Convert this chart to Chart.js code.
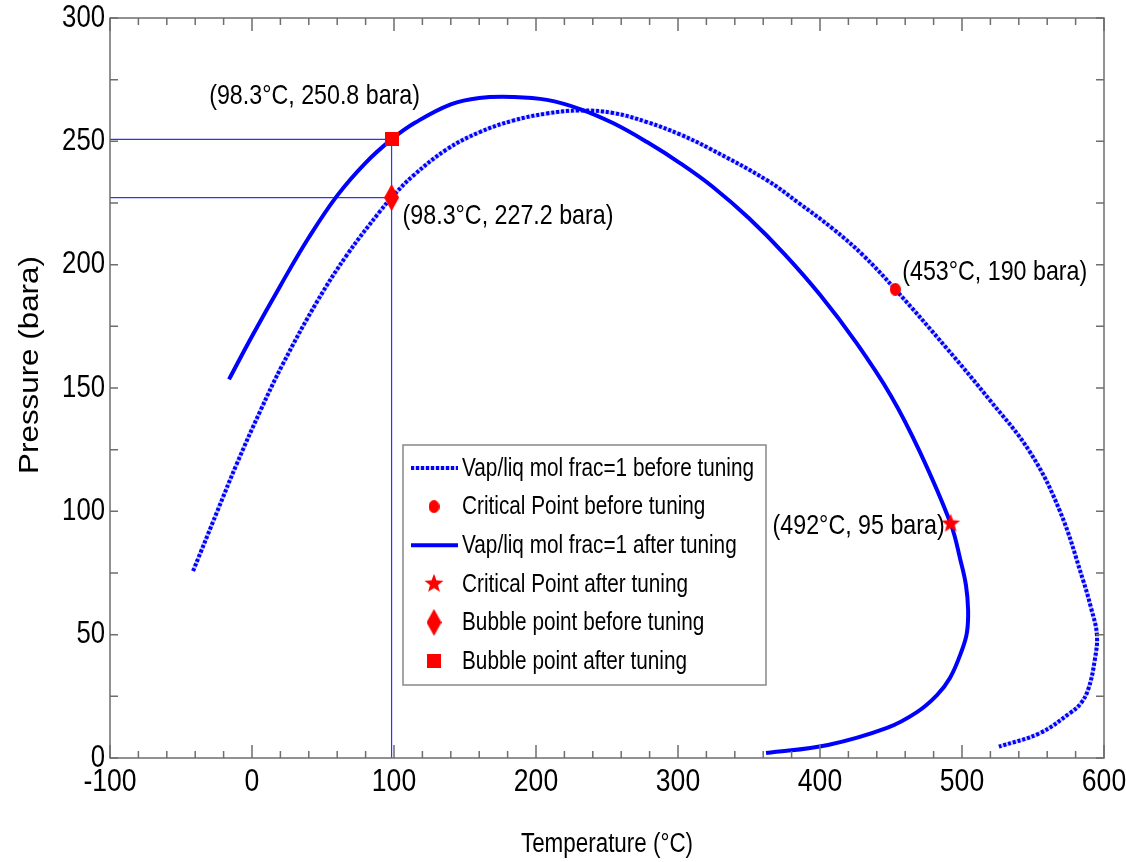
<!DOCTYPE html>
<html>
<head>
<meta charset="utf-8">
<script src="https://cdn.jsdelivr.net/npm/chart.js@4.4.1/dist/chart.umd.min.js"></script>
<style>
  html, body { margin: 0; padding: 0; background: #fff; }
</style>
</head>
<body>
<canvas id="envelope" width="1126" height="862"></canvas>
<script>
// phase envelope, before tuning (dotted)
const beforeT = [-41.5, -24.6, -10.6, 5.6, 21.8, 45.8, 66.9, 90.1, 98.3, 113.4, 137.3, 160.6, 183.8, 207.7, 231, 254.2, 278.2, 301.4, 322.5, 362.7, 385, 409.2, 430, 453, 489.4, 519.7, 547.9, 569, 585.2, 590.8, 595, 593.5, 589, 583.5, 576, 554.9, 526];
const beforeP = [75.8, 99.8, 119.4, 140.4, 159.8, 185, 204, 221.6, 227.2, 236, 246.8, 253.8, 258.4, 261.3, 262.5, 261.5, 257.8, 252.8, 247, 234.2, 225, 214.5, 204, 190, 166, 145, 124, 100, 72.2, 61, 50, 39.7, 28, 22, 18.2, 10.1, 4.6];

// phase envelope, after tuning (solid)
const afterT = [-16.2, 0, 20, 40, 60, 80, 98.3, 115, 140, 160, 183.8, 207.7, 231, 254.2, 278.2, 301.4, 324.6, 350, 375, 400, 425, 450, 470, 492, 499, 502.8, 504.3, 503.5, 500, 491.5, 482.4, 468.3, 447.2, 405.6, 362];
const afterP = [153.5, 171, 191.5, 211, 228, 241.3, 250.8, 257.6, 265, 267.6, 268, 266.8, 263.1, 257.4, 249.7, 241.2, 231.5, 218.8, 204.3, 187.8, 168.8, 146.8, 124.5, 95, 80, 70, 60, 51, 43.8, 32.4, 25.5, 18.6, 12.2, 5.3, 2];

const critBefore = [453, 190];
const critAfter = [492, 95];
const bubbleBefore = [98.3, 227.2];
const bubbleAfter = [98.3, 250.8];

const xTicks = [-100, 0, 100, 200, 300, 400, 500, 600];
const yTicks = [0, 50, 100, 150, 200, 250, 300];

const legendLabels = [
  'Vap/liq mol frac=1 before tuning',
  'Critical Point before tuning',
  'Vap/liq mol frac=1 after tuning',
  'Critical Point after tuning',
  'Bubble point before tuning',
  'Bubble point after tuning'
];

const FONT = "'Liberation Sans', Arial, sans-serif";
const SQUEEZE = 0.83; // the original figure is stretched vertically, text looks narrow
const BLUE = '#0000ff';
const RED = '#ff0000';

function toPts(xs, ys) {
  return xs.map((x, i) => ({ x: x, y: ys[i] }));
}

// narrow text helper
function narrowText(ctx, txt, x, y, size, align) {
  ctx.save();
  ctx.translate(x, y);
  ctx.scale(SQUEEZE, 1);
  ctx.font = size + 'px ' + FONT;
  ctx.textAlign = align;
  ctx.textBaseline = 'middle';
  ctx.fillText(txt, 0, 0);
  ctx.restore();
}

// marker images
function starImage(r) {
  const c = document.createElement('canvas');
  c.width = c.height = r * 2 + 2;
  const g = c.getContext('2d');
  g.fillStyle = RED;
  g.beginPath();
  for (let i = 0; i < 10; i++) {
    const rad = i % 2 === 0 ? r : r * 0.42;
    const a = -Math.PI / 2 + i * Math.PI / 5;
    g.lineTo(r + 1 + rad * Math.cos(a), r + 1 + rad * Math.sin(a));
  }
  g.closePath();
  g.fill();
  return c;
}
function diamondImage(w, h) {
  const c = document.createElement('canvas');
  c.width = w; c.height = h;
  const g = c.getContext('2d');
  g.fillStyle = RED;
  g.beginPath();
  g.moveTo(w / 2, 0); g.lineTo(w, h / 2); g.lineTo(w / 2, h); g.lineTo(0, h / 2);
  g.closePath();
  g.fill();
  return c;
}
function dotImage(w, h) {
  const c = document.createElement('canvas');
  c.width = w; c.height = h;
  const g = c.getContext('2d');
  g.fillStyle = RED;
  g.beginPath();
  g.ellipse(w / 2, h / 2, w / 2, h / 2, 0, 0, Math.PI * 2);
  g.fill();
  return c;
}
function squareImage(s) {
  const c = document.createElement('canvas');
  c.width = c.height = s;
  const g = c.getContext('2d');
  g.fillStyle = RED;
  g.fillRect(0, 0, s, s);
  return c;
}
const starImg = starImage(10);
const diamondImg = diamondImage(15, 27);
const dotImg = dotImage(11, 13);
const squareImg = squareImage(14);

const frameAndText = {
  id: 'frameAndText',
  afterDraw(chart) {
    const ctx = chart.ctx;
    const a = chart.chartArea;
    const xs = chart.scales.x, ys = chart.scales.y;
    ctx.save();
    // box
    ctx.strokeStyle = '#6e6e6e';
    ctx.lineWidth = 1.5;
    ctx.strokeRect(a.left, a.top, a.right - a.left, a.bottom - a.top);
    // ticks (inside)
    ctx.beginPath();
    for (let v = -100; v <= 600; v += 20) {
      const px = xs.getPixelForValue(v);
      const len = v % 100 === 0 ? 13 : 7;
      ctx.moveTo(px, a.bottom); ctx.lineTo(px, a.bottom - len);
      ctx.moveTo(px, a.top); ctx.lineTo(px, a.top + len);
    }
    for (let v = 0; v <= 300; v += 25) {
      const py = ys.getPixelForValue(v);
      ctx.moveTo(a.left, py); ctx.lineTo(a.left + 8, py);
      ctx.moveTo(a.right, py); ctx.lineTo(a.right - 8, py);
    }
    ctx.stroke();

    // tick labels
    ctx.fillStyle = '#000';
    xs.ticks.forEach((t, i) => {
      narrowText(ctx, String(t.value), xs.getPixelForTick(i), a.bottom + 24, 32, 'center');
    });
    ys.ticks.forEach((t, i) => {
      narrowText(ctx, String(t.value), a.left - 5, ys.getPixelForTick(i), 31, 'right');
    });

    // axis titles
    narrowText(ctx, 'Temperature (\u00B0C)', (a.left + a.right) / 2, 845, 27, 'center');
    ctx.save();
    ctx.translate(30, 365);
    ctx.rotate(-Math.PI / 2);
    ctx.scale(1.12, 1);
    ctx.font = '28px ' + FONT;
    ctx.textAlign = 'center';
    ctx.textBaseline = 'middle';
    ctx.fillText('Pressure (bara)', 0, 0);
    ctx.restore();

    // legend
    const lx = 403, ly = 445, lw = 363, lh = 240;
    ctx.fillStyle = '#fff';
    ctx.fillRect(lx, ly, lw, lh);
    ctx.strokeStyle = '#888';
    ctx.lineWidth = 1.5;
    ctx.strokeRect(lx, ly, lw, lh);
    legendLabels.forEach((lab, i) => {
      const y = ly + 23 + i * 38.6;
      const sx = lx + 8, ex = lx + 55, cx = lx + 31;
      if (i === 0) {
        ctx.strokeStyle = '#c4c4ff'; ctx.lineWidth = 4; ctx.setLineDash([]);
        ctx.beginPath(); ctx.moveTo(sx, y); ctx.lineTo(ex, y); ctx.stroke();
        ctx.strokeStyle = BLUE; ctx.setLineDash([3, 2]);
        ctx.beginPath(); ctx.moveTo(sx, y); ctx.lineTo(ex, y); ctx.stroke();
        ctx.setLineDash([]);
      } else if (i === 2) {
        ctx.strokeStyle = BLUE; ctx.lineWidth = 4;
        ctx.beginPath(); ctx.moveTo(sx, y); ctx.lineTo(ex, y); ctx.stroke();
      } else if (i === 1) {
        ctx.drawImage(dotImg, cx - 5.5, y - 6.5);
      } else if (i === 3) {
        ctx.drawImage(starImg, cx - 11, y - 11);
      } else if (i === 4) {
        ctx.drawImage(diamondImg, cx - 7.5, y - 13.5);
      } else {
        ctx.drawImage(squareImg, cx - 7, y - 7);
      }
      ctx.fillStyle = '#000';
      narrowText(ctx, lab, lx + 59, y + 1, 25, 'left');
    });

    // point labels
    const notes = [
      { t: '(98.3\u00B0C, 250.8 bara)', p: bubbleAfter, dx: -77, dy: -43, al: 'center' },
      { t: '(98.3\u00B0C, 227.2 bara)', p: bubbleBefore, dx: 11, dy: 19, al: 'left' },
      { t: '(453\u00B0C, 190 bara)', p: critBefore, dx: 7, dy: -17, al: 'left' },
      { t: '(492\u00B0C, 95 bara)', p: critAfter, dx: -6, dy: 3, al: 'right' }
    ];
    notes.forEach(n => {
      narrowText(ctx, n.t, xs.getPixelForValue(n.p[0]) + n.dx, ys.getPixelForValue(n.p[1]) + n.dy, 28, n.al);
    });
    ctx.restore();
  }
};

const refColor = '#3030ff';
new Chart(document.getElementById('envelope'), {
  type: 'scatter',
  data: {
    datasets: [
      { data: [{ x: critBefore[0], y: critBefore[1] }], pointStyle: dotImg, order: 0 },
      { data: [{ x: critAfter[0], y: critAfter[1] }], pointStyle: starImg, order: 0 },
      { data: [{ x: bubbleBefore[0], y: bubbleBefore[1] }], pointStyle: diamondImg, order: 0 },
      { data: [{ x: bubbleAfter[0], y: bubbleAfter[1] }], pointStyle: squareImg, order: 0 },
      { data: toPts(afterT, afterP), showLine: true, borderColor: BLUE, borderWidth: 4, pointRadius: 0, tension: 0.4, order: 1 },
      { data: toPts(beforeT, beforeP), showLine: true, borderColor: BLUE, borderWidth: 4, borderDash: [3, 2], pointRadius: 0, tension: 0.4, order: 2 },
      { data: toPts(beforeT, beforeP), showLine: true, borderColor: '#c4c4ff', borderWidth: 4, pointRadius: 0, tension: 0.4, order: 3 },
      { data: [{ x: -100, y: bubbleAfter[1] }, { x: bubbleAfter[0], y: bubbleAfter[1] }], showLine: true, borderColor: refColor, borderWidth: 1.2, pointRadius: 0, order: 4 },
      { data: [{ x: -100, y: bubbleBefore[1] }, { x: bubbleBefore[0], y: bubbleBefore[1] }], showLine: true, borderColor: refColor, borderWidth: 1.2, pointRadius: 0, order: 4 },
      { data: [{ x: bubbleAfter[0], y: 0 }, { x: bubbleAfter[0], y: bubbleAfter[1] }], showLine: true, borderColor: refColor, borderWidth: 1.2, pointRadius: 0, order: 4 }
    ]
  },
  options: {
    responsive: false,
    animation: false,
    layout: { padding: { top: 18, right: 22, left: 0, bottom: 0 } },
    plugins: {
      legend: { display: false },
      tooltip: { enabled: false }
    },
    scales: {
      x: {
        type: 'linear',
        min: -100,
        max: 600,
        afterBuildTicks: s => { s.ticks = xTicks.map(v => ({ value: v })); },
        afterFit: s => { s.height = 104; },
        grid: { display: false },
        border: { display: false },
        ticks: { display: false }
      },
      y: {
        type: 'linear',
        min: 0,
        max: 300,
        afterBuildTicks: s => { s.ticks = yTicks.map(v => ({ value: v })); },
        afterFit: s => { s.width = 110; },
        grid: { display: false },
        border: { display: false },
        ticks: { display: false }
      }
    }
  },
  plugins: [frameAndText]
});
</script>
</body>
</html>
